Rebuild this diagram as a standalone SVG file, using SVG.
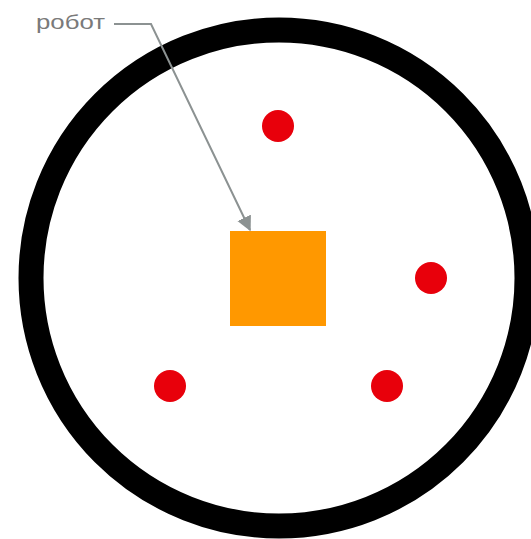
<svg xmlns="http://www.w3.org/2000/svg" width="531" height="539" viewBox="0 0 531 539">
<style>
.dot{fill:#e8000b}
.conn{fill:none;stroke:#8c9292;stroke-width:2}
.lbl{font-family:"Liberation Sans",Arial,sans-serif;font-size:20px;fill:#7a7a7a}
</style>
<defs>
<marker id="ah" viewBox="0 0 10 10" refX="9" refY="5" markerWidth="7.5" markerHeight="8" markerUnits="strokeWidth" orient="auto">
<path d="M0,0 L10,5 L0,10 z" fill="#8c9292"/>
</marker>
</defs>
<rect width="531" height="539" fill="#ffffff"/>
<g id="arena">
<circle cx="279" cy="278" r="248" fill="none" stroke="#000000" stroke-width="25"/>
</g>
<g id="dot1"><circle class="dot" cx="278" cy="126" r="16"/></g>
<g id="dot2"><circle class="dot" cx="431" cy="278" r="16"/></g>
<g id="dot3"><circle class="dot" cx="170" cy="386" r="16"/></g>
<g id="dot4"><circle class="dot" cx="387" cy="386" r="16"/></g>
<g id="robot"><rect x="230" y="231" width="96" height="95" fill="#ff9800"/></g>
<g id="label"><text class="lbl" x="36" y="28.5" textLength="69" lengthAdjust="spacingAndGlyphs">робот</text></g>
<g id="connectors">
<path class="conn" d="M114,24 L151,24 L250,230" marker-end="url(#ah)"/>
</g>
</svg>
